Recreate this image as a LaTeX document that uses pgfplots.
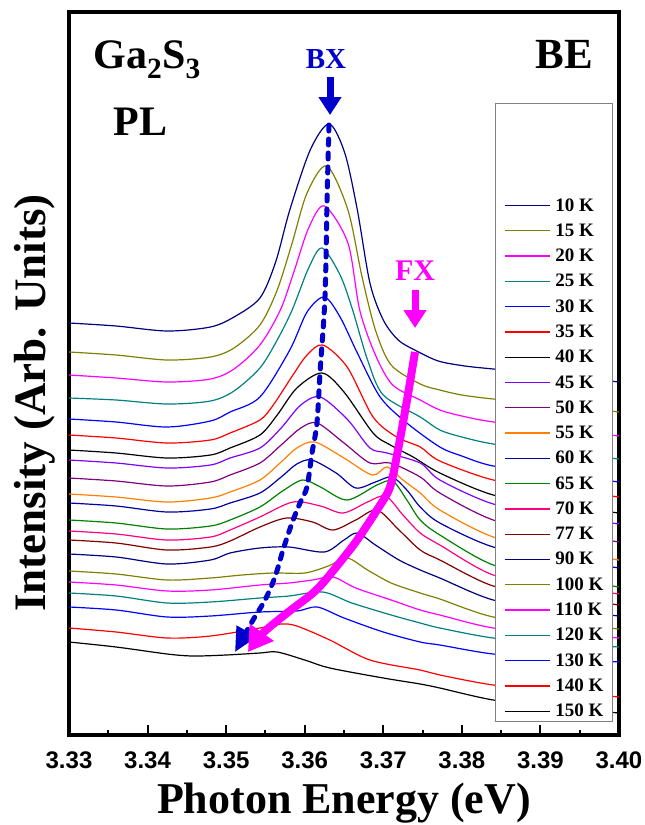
\documentclass[border=0pt]{standalone}
\usepackage{fontspec}
\setmainfont{Liberation Serif}
\setsansfont{Liberation Sans}
\usepackage{pgfplots}
\pgfplotsset{compat=1.18}
\usetikzlibrary{arrows.meta}

\definecolor{cnavy}{RGB}{0,0,128}
\definecolor{colive}{RGB}{128,128,0}
\definecolor{cmag}{RGB}{255,0,255}
\definecolor{ccyan}{RGB}{0,128,128}
\definecolor{cblue}{RGB}{0,0,255}
\definecolor{cred}{RGB}{255,0,0}
\definecolor{cviolet}{RGB}{128,0,255}
\definecolor{cpurple}{RGB}{128,0,128}
\definecolor{corange}{RGB}{255,128,0}
\definecolor{croyal}{RGB}{0,0,160}
\definecolor{cgreen}{RGB}{0,128,0}
\definecolor{cpink}{RGB}{255,0,128}
\definecolor{cwine}{RGB}{128,0,0}
\definecolor{bxblue}{RGB}{0,0,205}
\definecolor{lgray}{RGB}{128,128,128}

\begin{document}
\begin{tikzpicture}
\begin{axis}[
  scale only axis, width=550pt, height=723pt,
  xmin=3.33, xmax=3.40, ymin=12, ymax=735, y dir=reverse,
  clip=false,
  axis line style={line width=3.5pt},
  xtick={3.33,3.34,3.35,3.36,3.37,3.38,3.39,3.40},
  xticklabels={3.33,3.34,3.35,3.36,3.37,3.38,3.39,3.40},
  minor x tick num=1,
  ytick=\empty,
  tick pos=left, tick align=inside,
  major tick length=10pt, minor tick length=5pt,
  every tick/.style={line width=2pt, black},
  /pgf/number format/assume math mode=true,
  xticklabel style={font=\fontsize{24}{24}\selectfont\sffamily\bfseries, anchor=base, yshift=-33pt},
  every axis plot/.append style={line width=1.2pt},
  legend image code/.code={\draw[#1, line width=1.2pt] (0pt,0pt) -- (45pt,0pt);},
  legend cell align=left,
  legend style={at={(axis description cs:0.989,0.018)}, anchor=south east,
    draw=lgray, line width=1pt, fill=white, inner xsep=9pt, inner ysep=3pt,
    row sep=11.2pt, column sep=5pt,
    font=\fontsize{19}{19}\selectfont\bfseries,
    nodes={inner sep=0pt}, cells={anchor=west}},
]
\addlegendimage{empty legend}\addlegendentry{\rule{0pt}{79pt}}

\addplot[cnavy, smooth] coordinates {(3.3300,323) (3.3360,326) (3.3425,331) (3.3480,327) (3.3510,317) (3.3543,298) (3.3563,262) (3.3581,210) (3.3607,150) (3.3631,124) (3.3651,153) (3.3667,210) (3.3683,283) (3.3700,320) (3.3719,340) (3.3740,350) (3.3770,361) (3.3804,366) (3.3840,369) (3.3920,375) (3.4000,382)};
\addlegendentry{10 K}
\addplot[colive, smooth] coordinates {(3.3300,352) (3.3360,355) (3.3425,360) (3.3480,357) (3.3510,348) (3.3543,325) (3.3565,290) (3.3584,243) (3.3603,193) (3.3628,166) (3.3655,210) (3.3673,277) (3.3690,330) (3.3710,365) (3.3747,384) (3.3772,390) (3.3800,395) (3.3840,399) (3.3920,405) (3.4000,412)};
\addlegendentry{15 K}
\addplot[cmag, smooth] coordinates {(3.3300,375) (3.3360,378) (3.3425,382) (3.3480,379) (3.3510,369) (3.3543,345) (3.3569,310) (3.3587,270) (3.3605,228) (3.3625,206) (3.3655,243) (3.3670,310) (3.3690,355) (3.3712,385) (3.3747,400) (3.3772,410) (3.3800,416) (3.3840,422) (3.3920,429) (3.4000,436)};
\addlegendentry{20 K}
\addplot[ccyan, smooth] coordinates {(3.3300,398) (3.3360,400) (3.3425,404) (3.3480,401) (3.3510,391) (3.3543,368) (3.3565,340) (3.3584,310) (3.3605,268) (3.3622,248) (3.3645,275) (3.3661,310) (3.3680,360) (3.3700,395) (3.3747,417) (3.3772,430) (3.3800,437) (3.3840,444) (3.3920,452) (3.4000,459)};
\addlegendentry{25 K}
\addplot[cblue, smooth] coordinates {(3.3300,419) (3.3360,422) (3.3425,427) (3.3480,421) (3.3505,412) (3.3543,397) (3.3581,350) (3.3603,312) (3.3625,297) (3.3645,317) (3.3667,353) (3.3696,397) (3.3730,423) (3.3772,447) (3.3800,456) (3.3840,466) (3.3920,474) (3.4000,482)};
\addlegendentry{30 K}
\addplot[cred, smooth] coordinates {(3.3300,435) (3.3360,438) (3.3425,443) (3.3480,440) (3.3505,433) (3.3543,420) (3.3560,405) (3.3585,375) (3.3603,355) (3.3623,345) (3.3654,367) (3.3687,417) (3.3717,437) (3.3747,447) (3.3772,461) (3.3840,480) (3.3920,489) (3.4000,497)};
\addlegendentry{35 K}
\addplot[black, smooth] coordinates {(3.3300,450) (3.3360,453) (3.3425,458) (3.3480,455) (3.3505,448) (3.3543,435) (3.3565,415) (3.3590,388) (3.3622,373) (3.3650,392) (3.3687,433) (3.3709,445) (3.3738,457) (3.3772,473) (3.3840,495) (3.3920,505) (3.4000,513)};
\addlegendentry{40 K}
\addplot[cviolet, smooth] coordinates {(3.3300,460) (3.3360,463) (3.3425,468) (3.3480,465) (3.3505,458) (3.3543,448) (3.3570,428) (3.3595,405) (3.3620,397) (3.3655,420) (3.3683,448) (3.3705,453) (3.3747,463) (3.3772,480) (3.3840,504) (3.3920,515) (3.4000,524)};
\addlegendentry{45 K}
\addplot[cpurple, smooth] coordinates {(3.3300,478) (3.3360,481) (3.3425,486) (3.3480,482) (3.3505,475) (3.3543,463) (3.3570,445) (3.3595,428) (3.3616,423) (3.3650,443) (3.3683,463) (3.3709,463) (3.3747,477) (3.3772,493) (3.3840,520) (3.3920,532) (3.4000,542)};
\addlegendentry{50 K}
\addplot[corange, smooth] coordinates {(3.3300,494) (3.3360,497) (3.3425,502) (3.3480,498) (3.3505,492) (3.3543,480) (3.3570,462) (3.3590,448) (3.3613,442) (3.3650,458) (3.3686,475) (3.3705,467) (3.3725,480) (3.3747,493) (3.3772,510) (3.3840,537) (3.3920,550) (3.4000,560)};
\addlegendentry{55 K}
\addplot[croyal, smooth] coordinates {(3.3300,503) (3.3360,506) (3.3425,512) (3.3480,509) (3.3505,503) (3.3543,493) (3.3570,477) (3.3590,464) (3.3609,460) (3.3640,473) (3.3665,488) (3.3690,482) (3.3711,477) (3.3730,490) (3.3747,507) (3.3772,523) (3.3840,547) (3.3920,558) (3.4000,568)};
\addlegendentry{60 K}
\addplot[cgreen, smooth] coordinates {(3.3300,520) (3.3360,523) (3.3425,529) (3.3480,526) (3.3505,520) (3.3543,507) (3.3570,492) (3.3597,480) (3.3620,487) (3.3654,500) (3.3692,485) (3.3712,481) (3.3730,500) (3.3747,520) (3.3772,535) (3.3840,565) (3.3920,577) (3.4000,587)};
\addlegendentry{65 K}
\addplot[cpink, smooth] coordinates {(3.3300,531) (3.3360,534) (3.3425,540) (3.3480,537) (3.3505,530) (3.3543,517) (3.3585,502) (3.3620,506) (3.3649,513) (3.3680,502) (3.3703,496) (3.3725,515) (3.3747,533) (3.3772,545) (3.3840,575) (3.3920,585) (3.4000,594)};
\addlegendentry{70 K}
\addplot[cwine, smooth] coordinates {(3.3300,540) (3.3360,543) (3.3425,550) (3.3480,547) (3.3505,541) (3.3543,527) (3.3577,518) (3.3610,522) (3.3636,530) (3.3665,520) (3.3692,510) (3.3720,530) (3.3747,550) (3.3772,560) (3.3840,586) (3.3920,596) (3.4000,605)};
\addlegendentry{77 K}
\addplot[cnavy, smooth] coordinates {(3.3300,554) (3.3360,557) (3.3425,564) (3.3480,560) (3.3505,553) (3.3543,548) (3.3580,547) (3.3625,552) (3.3650,540) (3.3667,533) (3.3690,545) (3.3720,560) (3.3747,570) (3.3772,578) (3.3840,600) (3.3920,609) (3.4000,616)};
\addlegendentry{90 K}
\addplot[colive, smooth] coordinates {(3.3300,571) (3.3360,574) (3.3425,580) (3.3480,578) (3.3520,575) (3.3560,573) (3.3600,573) (3.3630,566) (3.3654,558) (3.3680,570) (3.3710,583) (3.3747,593) (3.3772,599) (3.3840,617) (3.3920,623) (3.4000,629)};
\addlegendentry{100 K}
\addplot[cmag, smooth] coordinates {(3.3300,582) (3.3360,585) (3.3425,591) (3.3480,590) (3.3543,585) (3.3580,583) (3.3610,580) (3.3636,577) (3.3665,588) (3.3710,600) (3.3747,610) (3.3772,615) (3.3840,628) (3.3920,633) (3.4000,638)};
\addlegendentry{110 K}
\addplot[ccyan, smooth] coordinates {(3.3300,593) (3.3360,596) (3.3425,603) (3.3480,602) (3.3543,598) (3.3580,596) (3.3623,592) (3.3660,603) (3.3710,615) (3.3747,623) (3.3772,628) (3.3840,638) (3.3920,643) (3.4000,647)};
\addlegendentry{120 K}
\addplot[cblue, smooth] coordinates {(3.3300,607) (3.3360,610) (3.3425,617) (3.3480,616) (3.3543,612) (3.3590,611) (3.3616,607) (3.3650,618) (3.3700,632) (3.3747,642) (3.3772,645) (3.3840,654) (3.3920,658) (3.4000,662)};
\addlegendentry{130 K}
\addplot[cred, smooth] coordinates {(3.3300,628) (3.3360,632) (3.3425,638) (3.3480,636) (3.3543,628) (3.3570,624) (3.3590,626) (3.3632,640) (3.3683,660) (3.3747,670) (3.3772,675) (3.3840,685) (3.3920,691) (3.4000,697)};
\addlegendentry{140 K}
\addplot[black, smooth] coordinates {(3.3300,642) (3.3360,647) (3.3425,654) (3.3458,656) (3.3500,655) (3.3543,653) (3.3565,652) (3.3600,660) (3.3632,668) (3.3700,678) (3.3747,684) (3.3772,688) (3.3840,700) (3.3920,707) (3.4000,713)};
\addlegendentry{150 K}

% BX trace (dashed) and FX trace (thick magenta)
\addplot[forget plot, bxblue, line width=5pt, line cap=round, dash pattern=on 6pt off 8pt, smooth,
  -{Triangle[length=24pt,width=22pt]}] coordinates {(3.36309,125) (3.36284,200) (3.36258,297) (3.36195,373) (3.36156,423) (3.36093,453) (3.36029,487) (3.35940,503) (3.35838,523) (3.35724,550) (3.35622,577) (3.35495,600) (3.35342,620) (3.35113,652)};
\addplot[forget plot, cmag, line width=8pt, smooth,
  -{Triangle[length=24pt,width=28pt]}] coordinates {(3.37404,352) (3.37302,400) (3.37187,450) (3.37086,487) (3.36920,510) (3.36640,543) (3.36296,577) (3.36106,593) (3.35775,613) (3.35469,633) (3.35278,652)};
% down arrows
\addplot[forget plot, bxblue, line width=7pt, -{Triangle[length=18pt,width=22pt]}] coordinates {(3.36322,77) (3.36322,115)};
\addplot[forget plot, cmag, line width=7pt, -{Triangle[length=18pt,width=22pt]}] coordinates {(3.37404,290) (3.37404,328)};

\node[anchor=base west, font=\fontsize{42}{42}\selectfont\bfseries] at (axis cs:3.33267,68) {Ga\textsubscript{2}S\textsubscript{3}};
\node[anchor=base west, font=\fontsize{42}{42}\selectfont\bfseries] at (axis cs:3.33522,135) {PL};
\node[anchor=base west, font=\fontsize{43}{43}\selectfont\bfseries] at (axis cs:3.38893,68) {BE};
\node[anchor=base, text=bxblue, font=\fontsize{29}{29}\selectfont\bfseries] at (axis cs:3.36271,68) {BX};
\node[anchor=base, text=cmag, font=\fontsize{30}{30}\selectfont\bfseries] at (axis cs:3.37404,280) {FX};
\node[anchor=base, font=\fontsize{44}{44}\selectfont\bfseries] at (axis cs:3.365,735) [yshift=-78pt] {Photon Energy (eV)};
\node[rotate=90, anchor=base, font=\fontsize{45}{45}\selectfont\bfseries] at (axis cs:3.32695,403) {Intensity (Arb. Units)};
\end{axis}
\pgfresetboundingbox
\path[use as bounding box] (-69pt,-90pt) rectangle (576pt,735pt);
\end{tikzpicture}
\end{document}
